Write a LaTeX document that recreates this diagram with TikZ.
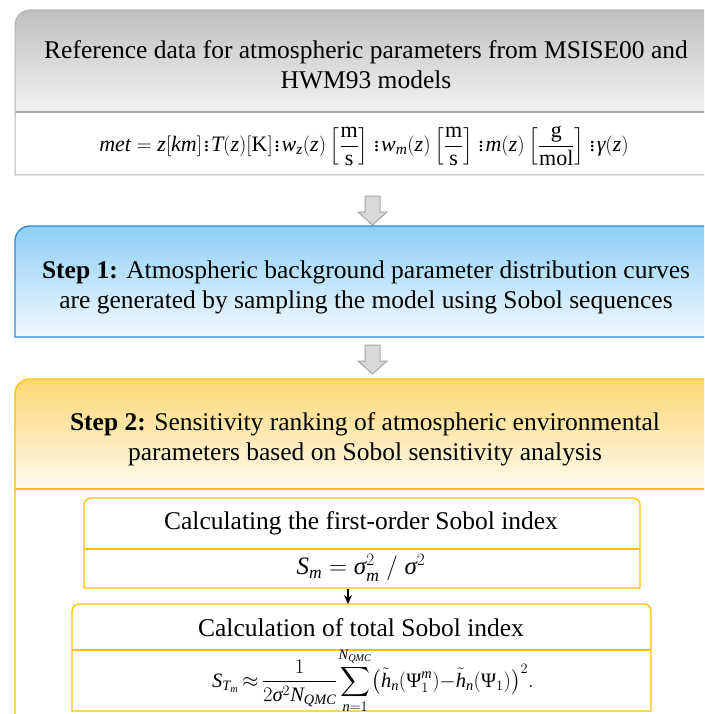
\documentclass[tikz,border=0pt]{standalone}
\usepackage{amsmath}
\usepackage{graphicx}
\usepackage{fontspec}
\setmainfont{Liberation Serif}
\usetikzlibrary{arrows.meta,calc}
\definecolor{grayTop}{HTML}{C0C0C0}
\definecolor{grayBot}{HTML}{F2F2F2}
\definecolor{grayLine}{HTML}{A8A8A8}
\definecolor{grayEdge}{HTML}{B4B4B4}
\definecolor{blueTop}{HTML}{8ECFF7}
\definecolor{blueBot}{HTML}{F2F9FF}
\definecolor{blueEdge}{HTML}{2F88D2}
\definecolor{oraTop}{HTML}{FDD774}
\definecolor{oraBot}{HTML}{FFFAF0}
\definecolor{oraEdge}{HTML}{FFC000}
\definecolor{arrFill}{HTML}{D9D9D9}
\definecolor{arrEdge}{HTML}{A6A6A6}
\newcommand\vi[1]{\textit{#1}}
\newcommand\tcol{\mkern1.5mu\vdots\mkern1.5mu}
\begin{document}
\begin{tikzpicture}[x=1pt,y=-1pt,
  bigtext/.style={align=center,font=\fontsize{25.5}{30}\selectfont,inner sep=0pt},
  boxtext/.style={align=center,font=\fontsize{25.5}{30}\selectfont,inner sep=0pt},
  mathtext/.style={inner sep=0pt},
  blockarrow/.style={fill=arrFill,draw=arrEdge,line width=1pt,line join=miter},
  smallarrow/.style={-{Stealth[length=9pt,width=8pt]},line width=1.2pt,black}]
\useasboundingbox (0,0) rectangle (704,714);
\fill[white] (0,0) rectangle (704,714);
\clip (0,0) rectangle (704,714);

% ---- reference data box (gray)
\fill[white] (15,10) rectangle (730,175);
\shade[top color=grayTop,bottom color=grayBot] (15,112) -- (15,25) arc[start angle=180,end angle=270,radius=15] -- (730,10) -- (730,112) -- cycle;
\draw[grayLine,line width=2.2pt] (15,112) -- (730,112);
\draw[grayEdge,line width=1pt] (15,175) -- (15,25) arc[start angle=180,end angle=270,radius=15] -- (730,10) -- (730,175) -- cycle;
\node[bigtext] (ref) at (366,65) {Reference data for atmospheric parameters from MSISE00 and\\HWM93 models};
\node[mathtext,font=\fontsize{22}{26}\selectfont] (met) at (364,146)
  {$\vi{met} = \vi{z}[\vi{km}]\tcol \vi{T}(\vi{z})[\mathrm{K}]\tcol \vi{w}_{\vi{z}}(\vi{z})\left[\dfrac{\mathrm{m}}{\mathrm{s}}\right]\tcol \vi{w}_{\vi{m}}(\vi{z})\left[\dfrac{\mathrm{m}}{\mathrm{s}}\right]\tcol \vi{m}(\vi{z})\left[\dfrac{\mathrm{g}}{\mathrm{mol}}\right]\tcol \vi{γ}(\vi{z})$};

% ---- arrow 1
\coordinate (a1top) at (372.5,196);
\coordinate (a1tip) at (372.5,225);
\draw[blockarrow] ($(a1top)+(-7.5,0)$) -- ($(a1top)+(7.5,0)$) -- ($(a1tip)+(7.5,-13)$) -- ($(a1tip)+(14.5,-13)$) -- (a1tip) -- ($(a1tip)+(-14.5,-13)$) -- ($(a1tip)+(-7.5,-13)$) -- cycle;

% ---- step 1 box (blue)
\shade[top color=blueTop,bottom color=blueBot] (15,337) -- (15,241) arc[start angle=180,end angle=270,radius=15] -- (730,226) -- (730,337) -- cycle;
\draw[blueEdge,line width=1.3pt] (15,337) -- (15,241) arc[start angle=180,end angle=270,radius=15] -- (730,226) -- (730,337) -- cycle;
\node[bigtext] (step1) at (366,287) {\textbf{Step 1:} Atmospheric background parameter distribution curves\\are generated by sampling the model using Sobol sequences};

% ---- arrow 2
\coordinate (a2top) at (372.5,345);
\coordinate (a2tip) at (372.5,374);
\draw[blockarrow] ($(a2top)+(-7.5,0)$) -- ($(a2top)+(7.5,0)$) -- ($(a2tip)+(7.5,-13)$) -- ($(a2tip)+(14.5,-13)$) -- (a2tip) -- ($(a2tip)+(-14.5,-13)$) -- ($(a2tip)+(-7.5,-13)$) -- cycle;

% ---- step 2 box (orange)
\fill[white] (15,379) rectangle (730,730);
\shade[top color=oraTop,bottom color=oraBot] (15,489) -- (15,394) arc[start angle=180,end angle=270,radius=15] -- (730,379) -- (730,489) -- cycle;
\draw[oraEdge,line width=1.3pt] (15,489) -- (730,489);
\draw[oraEdge,line width=1.3pt] (15,730) -- (15,394) arc[start angle=180,end angle=270,radius=15] -- (730,379);
\node[bigtext] (step2) at (365,439) {\textbf{Step 2:} Sensitivity ranking of atmospheric environmental\\parameters based on Sobol sensitivity analysis};

% ---- inner box 1
\draw[oraEdge,line width=1.3pt] (84,588) -- (84,505) arc[start angle=180,end angle=270,radius=7] -- (633,498) arc[start angle=270,end angle=360,radius=7] -- (640,588) -- cycle;
\draw[oraEdge,line width=2pt] (84,549) -- (640,549);
\node[boxtext] (first) at (361,523) {Calculating the first-order Sobol index};
\node[mathtext,font=\fontsize{25}{29}\selectfont] (sm) at (361,568) {$\vi{S}_{\vi{m}} = \vi{σ}^2_{\vi{m}}\;/\;\vi{σ}^2$};

% ---- inner box 2
\draw[oraEdge,line width=1.3pt] (72,711) -- (72,611) arc[start angle=180,end angle=270,radius=7] -- (644,604) arc[start angle=270,end angle=360,radius=7] -- (651,711) -- cycle;
\draw[oraEdge,line width=2pt] (72,650) -- (651,650);
\node[boxtext] (total) at (361,628) {Calculation of total Sobol index};
\node[mathtext,font=\fontsize{20.5}{24}\selectfont] (st) at (373,680.5)
  {\thickmuskip=3mu\medmuskip=1mu\thinmuskip=1mu$\displaystyle \vi{S}_{\vi{T}_{\vi{m}}} \approx \frac{1}{2\vi{σ}^2 \vi{N}_{\vi{QMC}}}\sum_{\vi{n}=1}^{\vi{N}_{\vi{QMC}}}\!\left(\tilde{\vi{h}}_{\vi{n}}\!\left(\text{Ψ}^{\vi{m}}_1\right)\!-\!\tilde{\vi{h}}_{\vi{n}}\!\left(\text{Ψ}_1\right)\right)^{2}\!.$};

% ---- small arrow between inner boxes
\coordinate (b1s) at (348,589);
\coordinate (b2n) at (348,604);
\draw[smallarrow] (b1s) -- (b2n);
\end{tikzpicture}
\end{document}
